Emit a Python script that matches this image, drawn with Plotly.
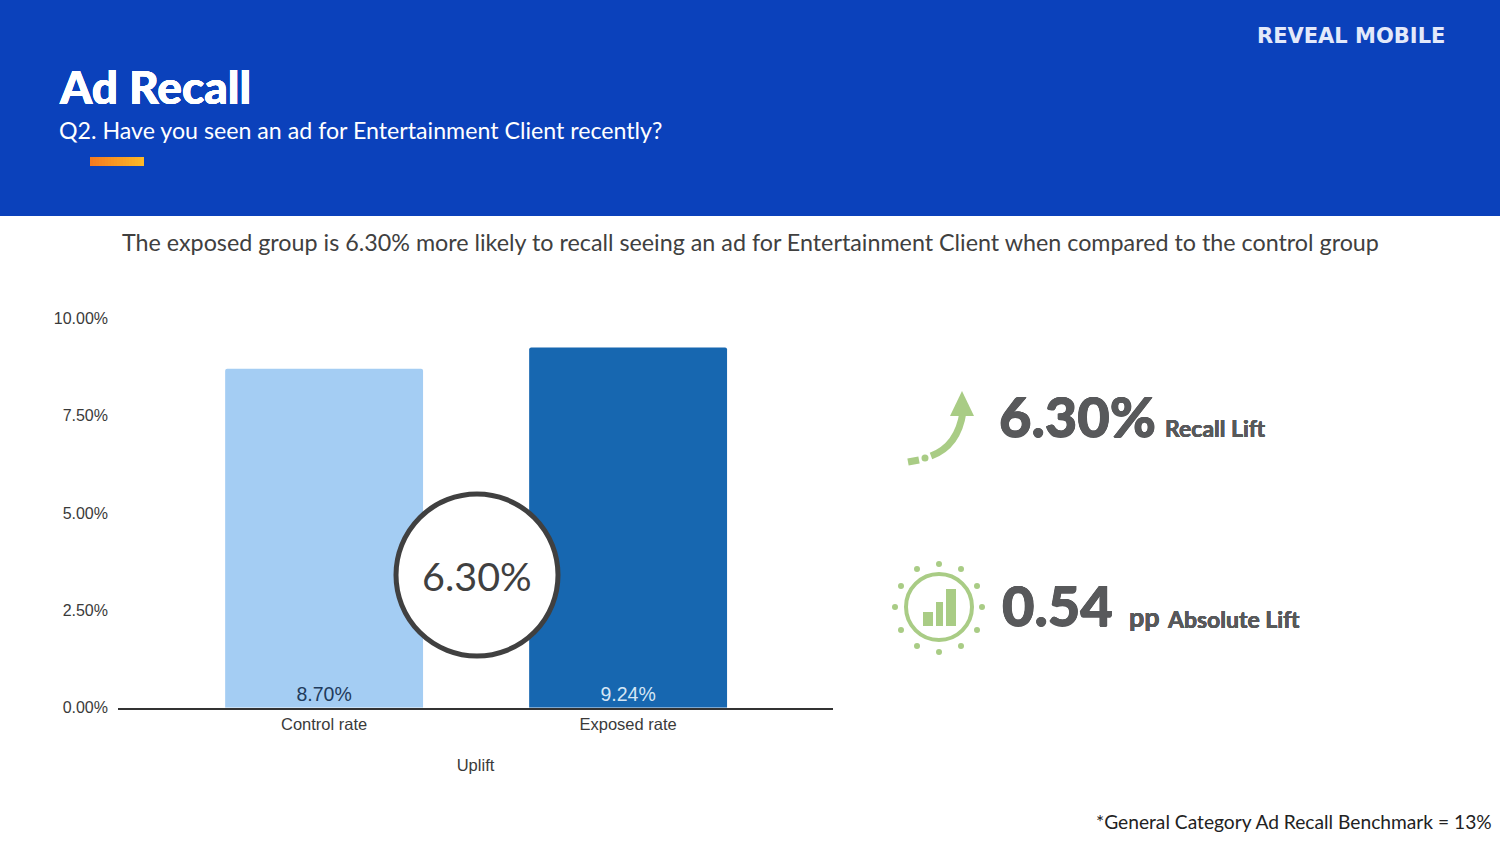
import plotly.graph_objects as go

categories = ["Control rate", "Exposed rate"]
rates = [8.70, 9.24]
bar_colors = ["#A4CDF3", "#1767B0"]
label_colors = ["#1F3B5C", "#D5E6F5"]
y_ticks = [0, 2.5, 5, 7.5, 10]
y_tick_labels = ["0.00%", "2.50%", "5.00%", "7.50%", "10.00%"]

W, H = 1500, 845
BODY_FONT = "Lato"
CHART_FONT = "Liberation Sans"
GREY = "#58595B"
GREEN = "#A9CC85"
AXIS_TEXT = dict(family=CHART_FONT, size=16.5, color="#3A3A3A")


def rect(x0, y0, x1, y1, color, layer="above"):
    return dict(type="rect", xref="x2", yref="y2", x0=x0, y0=y0, x1=x1, y1=y1,
                fillcolor=color, line_width=0, layer=layer)


def dot(cx, cy, r, color=GREEN):
    return dict(type="circle", xref="x2", yref="y2", x0=cx - r, y0=cy - r, x1=cx + r, y1=cy + r,
                fillcolor=color, line_width=0, layer="above")


def path(d, width=7, fill=None):
    return dict(type="path", xref="x2", yref="y2", path=d, layer="above",
                fillcolor=fill or "rgba(0,0,0,0)",
                line=dict(color=GREEN, width=width))


def label(x, y, text, size, color=GREY, anchor="left", weight="normal", family=BODY_FONT, fatten=0):
    font = dict(family=family, size=size, color=color, weight=weight)
    # Lato's heaviest cut is still lighter than the slide's bold, thicken it a bit
    if fatten:
        font["shadow"] = f"{fatten}px 0 0 {color}, -{fatten}px 0 0 {color}, 0 {fatten}px 0 {color}, 0 -{fatten}px 0 {color}"
    return dict(xref="x2", yref="y2", x=x, y=y, text=text,
                xanchor=anchor, yanchor="middle", showarrow=False, borderpad=0, font=font)


fig = go.Figure()
fig.add_trace(go.Bar(
    x=categories, y=rates, width=0.651,
    marker=dict(color=bar_colors, line_width=0, cornerradius=2),
    text=[f"{r:.2f}%" for r in rates], texttemplate="%{text}",
    textposition="inside", insidetextanchor="start", textangle=0,
    textfont=dict(family=CHART_FONT, size=19.5, color=label_colors),
    cliponaxis=False, hoverinfo="skip",
))
# empty trace so the page-sized pixel axes exist
fig.add_trace(go.Scatter(x=[0], y=[0], xaxis="x2", yaxis="y2", mode="markers",
                         marker_opacity=0, showlegend=False, hoverinfo="skip"))

shapes = [rect(0, 0, W, 216, "#0B41BB", layer="below")]

# orange accent under the subtitle, stepped to fake the gradient
start, end = (244, 123, 32), (253, 184, 39)
steps = 18
for i in range(steps):
    t = i / (steps - 1)
    c = [round(a + (b - a) * t) for a, b in zip(start, end)]
    shapes.append(rect(90 + 54 * i / steps, 157, 90 + 54 * (i + 1) / steps, 166, f"rgb({c[0]},{c[1]},{c[2]})"))

# uplift badge
shapes.append(dict(type="circle", xref="x2", yref="y2", x0=396, y0=494, x1=558, y1=656,
                   fillcolor="white", line=dict(color="#404040", width=5), layer="above"))

# arrow icon
shapes += [
    path("M 908 462 L 919 460"),
    dot(925, 458, 3.5),
    path("M 931 456 Q 958 446 963 412"),
    path("M 962 391 L 974 416 L 950 416 Z", width=0, fill=GREEN),
]

# bars-in-a-ring icon
shapes.append(dict(type="circle", xref="x2", yref="y2", x0=906, y0=574, x1=972, y1=640,
                   fillcolor="rgba(0,0,0,0)", line=dict(color=GREEN, width=4), layer="above"))
shapes += [rect(923, 612, 933, 626, GREEN), rect(936, 602, 943, 626, GREEN), rect(946, 589, 956, 626, GREEN)]
for cx, cy in [(939, 564), (961, 569), (977, 586), (982, 607), (977, 630), (961, 646),
               (939, 652), (917, 646), (901, 630), (895, 607), (901, 586), (917, 569)]:
    shapes.append(dot(cx, cy, 3))

annotations = [
    label(58, 86, "Ad Recall", 46, "white", weight=900, fatten=0.25),
    label(58, 130, "Q2. Have you seen an ad for Entertainment Client recently?", 23.2, "white"),
    label(1256, 36, "REVEAL MOBILE", 21, "#E3E9FA", family="DejaVu Sans", weight="bold"),
    label(750.5, 242, "The exposed group is 6.30% more likely to recall seeing an ad for Entertainment Client "
                      "when compared to the control group", 23.3, "#404040", anchor="center"),
    label(477, 575, "6.30%", 39.5, "#404040", anchor="center"),
    label(998, 415, "6.30%", 56, weight=900, fatten=0.5),
    label(1164, 428, "Recall Lift", 23, weight="bold", fatten=0.2),
    label(1001, 604, "0.54", 56, weight=900, fatten=0.5),
    label(1128, 616, "pp", 27, weight="bold", fatten=0.2),
    label(1166, 619, "Absolute Lift", 23, weight="bold", fatten=0.2),
    label(1492.5, 821, "*General Category Ad Recall Benchmark = 13%", 19.2, "#222222", anchor="right"),
]

fig.update_layout(
    width=W, height=H, margin=dict(l=0, r=0, t=0, b=0),
    paper_bgcolor="white", plot_bgcolor="rgba(0,0,0,0)",
    showlegend=False, shapes=shapes, annotations=annotations,
    xaxis=dict(domain=[118 / W, 833 / W], range=[-0.678, 1.674], type="category", automargin=False,
               showline=True, linecolor="#333333", linewidth=1.5, showgrid=False, zeroline=False,
               ticks="", ticklabelstandoff=1, tickfont=AXIS_TEXT,
               title=dict(text="Uplift", standoff=27, font=AXIS_TEXT)),
    yaxis=dict(domain=[(H - 707.8) / H, (H - 318) / H], range=[0, 10], automargin=False,
               tickvals=y_ticks, ticktext=y_tick_labels, showline=False, showgrid=False, zeroline=False,
               ticks="", ticklabelstandoff=9, tickfont=dict(family=CHART_FONT, size=16, color="#3A3A3A")),
    xaxis2=dict(domain=[0, 1], range=[0, W], visible=False, anchor="y2", fixedrange=True, automargin=False),
    yaxis2=dict(domain=[0, 1], range=[H, 0], visible=False, anchor="x2", fixedrange=True, automargin=False),
)

fig.write_html("out.html", config=dict(displayModeBar=False), post_script="document.body.style.margin='0';")
